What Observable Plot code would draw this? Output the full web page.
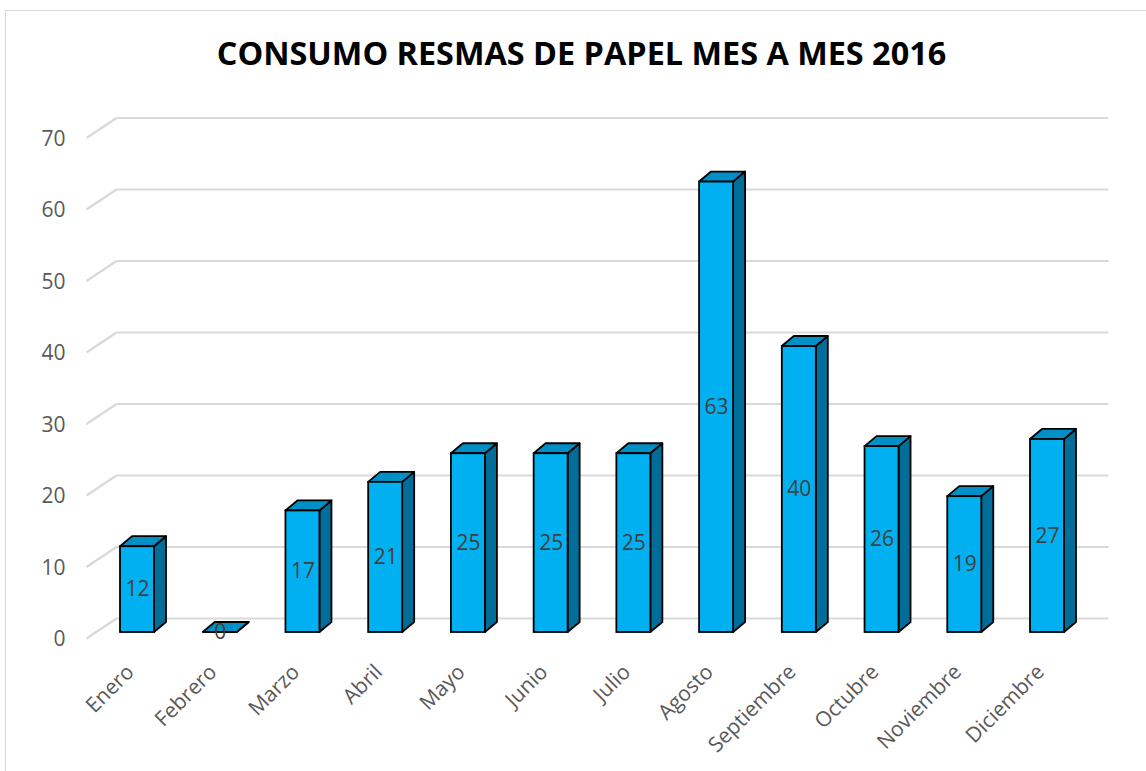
<!DOCTYPE html>
<html>
<head>
<meta charset="utf-8">
<script src="https://cdn.jsdelivr.net/npm/d3@7"></script>
<script src="https://cdn.jsdelivr.net/npm/@observablehq/plot@0.6"></script>
<style>
  html, body { margin: 0; padding: 0; background: #fff; }
  #wrap { position: relative; width: 1146px; height: 771px; overflow: hidden; background: #fff; }
  #border { position: absolute; left: 5px; top: 10px; width: 1300px; height: 900px; border: 1.5px solid #d9d9d9; box-sizing: border-box; }
  #title { position: absolute; left: 0; top: 36px; width: 1163px; text-align: center;
           font-family: "Open Sans", sans-serif; font-weight: 700; font-size: 32.4px; line-height: 1; color: #000; white-space: nowrap; }
  #chart { position: absolute; left: 0; top: 95px; }
</style>
</head>
<body>
<div id="wrap">
  <div id="border"></div>
  <div id="title">CONSUMO RESMAS DE PAPEL MES A MES 2016</div>
  <div id="chart"></div>
</div>
<script>
// ---- data ----
const months = ["Enero","Febrero","Marzo","Abril","Mayo","Junio","Julio","Agosto","Septiembre","Octubre","Noviembre","Diciembre"];
const values = [12, 0, 17, 21, 25, 25, 25, 63, 40, 26, 19, 27];
const yTicks = [0, 10, 20, 30, 40, 50, 60, 70];

// ---- layout / style ----
const W = 1146, H = 676;
const xRange = [137, 1047];      // pixel centres of first/last bar
const yRange = [537, 36.5];      // front plane 0 .. 70
const kx = (xRange[1] - xRange[0]) / (months.length - 1);
const ky = (yRange[0] - yRange[1]) / 70;
const px2x = p => (p - xRange[0]) / kx;   // pixel -> x data
const hw = 17 / kx;              // half front-face width
const dX = 12 / kx, dY = 10 / ky; // bar depth
const FRONT = "#00B0F0", SIDE = "#006E98", TOP = "#0090C6";
const GRID = "#d9d9d9";

const data = months.map((m, i) => ({month: m, i, v: values[i]}));
const sideData = data.flatMap(d => [
  {month: d.month, x: d.i + hw, y1: 0, y2: d.v},
  {month: d.month, x: d.i + hw + dX, y1: dY, y2: d.v + dY}
]);
const topData = data.flatMap(d => [
  {month: d.month, y: d.v, x1: d.i - hw, x2: d.i + hw},
  {month: d.month, y: d.v + dY, x1: d.i - hw + dX, x2: d.i + hw + dX}
]);

const backOff = 14 / ky, frontOff = 6 / ky;
const xFrontL = px2x(86), xBackL = px2x(116), xBackR = px2x(1108);

const chart = Plot.plot({
  width: W, height: H,
  marginTop: 0, marginRight: 0, marginBottom: 0, marginLeft: 0,
  x: {type: "linear", domain: [0, months.length - 1], range: xRange, axis: null},
  y: {type: "linear", domain: [0, 70], range: yRange, axis: null},
  style: {fontFamily: "'Open Sans', sans-serif", background: "none", overflow: "visible"},
  marks: [
    // gridlines (back wall + side wall)
    Plot.link(yTicks, {x1: xFrontL, y1: d => d - frontOff, x2: xBackL, y2: d => d + backOff, stroke: GRID, strokeWidth: 2.2}),
    Plot.link(yTicks, {x1: xBackL, y1: d => d + backOff, x2: xBackR, y2: d => d + backOff, stroke: GRID, strokeWidth: 2.2}),
    // y tick labels
    Plot.text(yTicks, {x: px2x(65), y: d => d - 7 / ky, text: d => String(d), textAnchor: "end", fontSize: 21, fill: "#595959"}),
    // 3D bars
    Plot.areaY(sideData, {x: "x", y1: "y1", y2: "y2", z: "month", fill: SIDE, stroke: "#000", strokeWidth: 1.8, strokeLinejoin: "round"}),
    Plot.areaX(topData, {y: "y", x1: "x1", x2: "x2", z: "month", fill: TOP, stroke: "#000", strokeWidth: 1.8, strokeLinejoin: "round"}),
    Plot.rect(data, {x1: d => d.i - hw, x2: d => d.i + hw, y1: 0, y2: "v", fill: FRONT, stroke: "#000", strokeWidth: 1.8}),
    // data labels
    Plot.text(data, {x: "i", y: d => d.v / 2, text: d => String(d.v), fontSize: 21, fill: "#404040"}),
    // x tick labels
    Plot.text(data, {x: "i", y: 0, text: "month", rotate: -45, textAnchor: "end", lineAnchor: "middle", dx: -7, dy: 36, fontSize: 21, fill: "#595959"})
  ]
});
document.getElementById("chart").appendChild(chart);
</script>
</body>
</html>
